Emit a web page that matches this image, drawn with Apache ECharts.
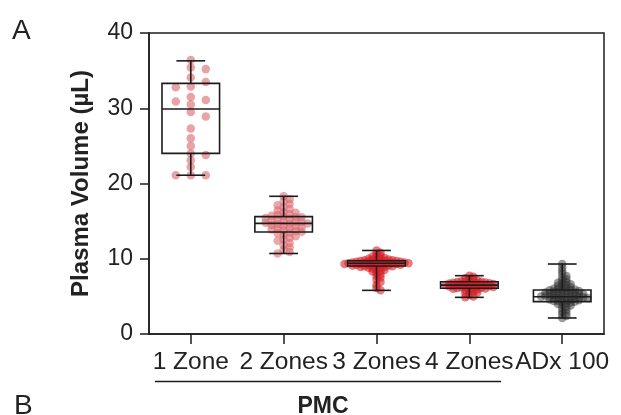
<!DOCTYPE html>
<html>
<head>
<meta charset="utf-8">
<script src="https://cdn.jsdelivr.net/npm/echarts@6/dist/echarts.min.js"></script>
<style>html,body{margin:0;padding:0;background:#fff}#c{width:621px;height:415px}</style>
</head>
<body>
<div id="c"></div>
<script>
const categories = ['1 Zone', '2 Zones', '3 Zones', '4 Zones', 'ADx 100'];
const yTicks = [0, 10, 20, 30, 40];

const zone1 = [36.4, 35.4, 35.2, 34.1, 33.5, 32.9, 32.8, 31.5, 31.1, 30.9, 30.5, 29.5, 28.9, 27.3, 26.0, 25.0, 24.0, 23.8, 23.1, 22.2, 21.1, 21.1, 21.1];
const zone2 = [18.3, 17.9, 17.6, 17.3, 17.1, 16.8, 16.6, 16.4, 16.2, 16.1, 15.9, 15.8, 15.7, 15.6, 15.5, 15.5, 15.4, 15.3, 15.2, 15.1, 15.0, 14.9, 14.9, 14.8, 14.7, 14.7, 14.6, 14.5, 14.4, 14.3, 14.2, 14.1, 14.0, 13.9, 13.8, 13.7, 13.6, 13.5, 13.4, 13.2, 13.0, 12.8, 12.6, 12.4, 12.1, 11.8, 11.5, 11.2, 10.9, 10.7];
const zone3 = [11.1, 10.8, 10.6, 10.4, 10.3, 10.2, 10.1, 10.0, 10.0, 9.9, 9.9, 9.8, 9.8, 9.8, 9.7, 9.7, 9.7, 9.6, 9.6, 9.6, 9.6, 9.5, 9.5, 9.5, 9.5, 9.4, 9.4, 9.4, 9.4, 9.4, 9.3, 9.3, 9.3, 9.3, 9.2, 9.2, 9.2, 9.2, 9.1, 9.1, 9.1, 9.0, 9.0, 9.0, 8.9, 8.9, 8.8, 8.8, 8.7, 8.6, 8.5, 8.4, 8.3, 8.1, 7.9, 7.7, 7.5, 7.2, 6.9, 6.5, 6.1, 5.8];
const zone4 = [7.75, 7.6, 7.4, 7.3, 7.2, 7.1, 7.0, 7.0, 6.95, 6.9, 6.9, 6.85, 6.8, 6.8, 6.75, 6.7, 6.7, 6.65, 6.6, 6.6, 6.55, 6.5, 6.5, 6.5, 6.45, 6.4, 6.4, 6.35, 6.3, 6.3, 6.25, 6.2, 6.2, 6.15, 6.1, 6.1, 6.05, 6.0, 6.0, 5.9, 5.8, 5.7, 5.6, 5.5, 5.4, 5.2, 5.0, 4.87];
const adx100 = [9.3, 8.8, 8.4, 8.0, 7.7, 7.5, 7.3, 7.1, 6.9, 6.8, 6.7, 6.6, 6.5, 6.4, 6.3, 6.2, 6.1, 6.0, 6.0, 5.9, 5.9, 5.8, 5.8, 5.7, 5.7, 5.6, 5.6, 5.5, 5.5, 5.5, 5.4, 5.4, 5.3, 5.3, 5.3, 5.2, 5.2, 5.1, 5.1, 5.1, 5.0, 5.0, 5.0, 4.9, 4.9, 4.9, 4.8, 4.8, 4.8, 4.7, 4.7, 4.6, 4.6, 4.5, 4.5, 4.4, 4.4, 4.3, 4.3, 4.2, 4.1, 4.0, 3.9, 3.8, 3.6, 3.4, 3.2, 3.0, 2.8, 2.6, 2.4, 2.13];

const boxMin = [21.1, 10.7, 5.8, 4.87, 2.13];
const boxQ1  = [24.0, 13.55, 9.04, 6.07, 4.3];
const boxMed = [29.9, 14.7, 9.4, 6.5, 4.96];
const boxQ3  = [33.3, 15.6, 9.74, 6.95, 5.85];
const boxMax = [36.3, 18.3, 11.1, 7.75, 9.3];

const groups = [zone1, zone2, zone3, zone4, adx100];
const colors = ['rgba(218,108,114,0.78)', 'rgba(218,100,106,0.7)', 'rgba(214,28,34,0.72)', 'rgba(214,28,34,0.72)', 'rgba(45,45,45,0.6)'];
const swarm = [
  {step: 15, minDy: 6},
  {step: 6, minDy: 4.5},
  {step: 4, minDy: 2.8},
  {step: 4, minDy: 2.8},
  {step: 4.2, minDy: 2.8}
];

const W = 621, H = 415;
const gridL = 149, gridR = 17, gridT = 33, gridB = 81;
const xMin = -0.45, xMax = 4.45, yMin = 0, yMax = 40;
const pxPerX = (W - gridL - gridR) / (xMax - xMin);
const pxPerY = (H - gridT - gridB) / (yMax - yMin);

function beeswarm(vals, gi) {
  const p = swarm[gi];
  const placed = [];
  const sorted = vals.slice().sort((a, b) => b - a);
  const out = [];
  sorted.forEach(v => {
    const ypx = v * pxPerY;
    for (let k = 0; k < 200; k++) {
      const col = k === 0 ? 0 : (k % 2 === 1 ? (k + 1) / 2 : -k / 2);
      const clash = placed.some(q => q.col === col && Math.abs(q.ypx - ypx) < p.minDy);
      if (!clash) {
        placed.push({col, ypx});
        out.push([gi + col * p.step / pxPerX, v]);
        break;
      }
    }
  });
  return out;
}

const scatterSeries = groups.map((g, gi) => ({
  type: 'scatter',
  data: beeswarm(g, gi),
  symbolSize: 8.5,
  itemStyle: {color: colors[gi]},
  z: 2,
  silent: true
}));

const boxData = categories.map((c, i) => [i, boxMin[i], boxQ1[i], boxMed[i], boxQ3[i], boxMax[i]]);

const boxSeries = {
  type: 'custom',
  z: 5,
  silent: true,
  data: boxData,
  renderItem: function (params, api) {
    const x = api.value(0);
    const c = api.coord([x, api.value(1)]);
    const q1 = api.coord([x, api.value(2)]);
    const md = api.coord([x, api.value(3)]);
    const q3 = api.coord([x, api.value(4)]);
    const mx = api.coord([x, api.value(5)]);
    const bw = api.size([0.62, 0])[0];
    const cw = api.size([0.31, 0])[0];
    const st = {stroke: '#1c1c1c', lineWidth: 1.6, fill: null};
    const cx = c[0];
    return {
      type: 'group',
      children: [
        {type: 'rect', shape: {x: cx - bw / 2, y: q3[1], width: bw, height: q1[1] - q3[1]}, style: st},
        {type: 'line', shape: {x1: cx - bw / 2, y1: md[1], x2: cx + bw / 2, y2: md[1]}, style: st},
        {type: 'line', shape: {x1: cx, y1: q3[1], x2: cx, y2: mx[1]}, style: st},
        {type: 'line', shape: {x1: cx, y1: q1[1], x2: cx, y2: c[1]}, style: st},
        {type: 'line', shape: {x1: cx - cw / 2, y1: mx[1], x2: cx + cw / 2, y2: mx[1]}, style: st},
        {type: 'line', shape: {x1: cx - cw / 2, y1: c[1], x2: cx + cw / 2, y2: c[1]}, style: st}
      ]
    };
  }
};

const font = 'Liberation Sans, Arial, sans-serif';
const chart = echarts.init(document.getElementById('c'), null, {renderer: 'canvas'});
chart.setOption({
  animation: false,
  backgroundColor: '#fff',
  grid: {left: gridL, right: gridR, top: gridT, bottom: gridB, show: true, borderColor: '#1c1c1c', borderWidth: 1.5, backgroundColor: 'transparent'},
  xAxis: {
    type: 'value', min: xMin, max: xMax,
    axisLine: {show: true, onZero: false, lineStyle: {color: '#1c1c1c', width: 1.5}},
    axisTick: {show: true, customValues: [0, 1, 2, 3, 4], length: 10, lineStyle: {color: '#1c1c1c', width: 1.5}},
    axisLabel: {customValues: [0, 1, 2, 3, 4], formatter: v => categories[Math.round(v)], fontSize: 24.5, color: '#222', fontFamily: font, margin: 16},
    splitLine: {show: false}
  },
  yAxis: {
    type: 'value', min: yMin, max: yMax, interval: 10,
    name: 'Plasma Volume (µL)', nameLocation: 'middle', nameGap: 56,
    nameTextStyle: {fontSize: 24, fontWeight: 'bold', color: '#222', fontFamily: font},
    axisLine: {show: true, onZero: false, lineStyle: {color: '#1c1c1c', width: 1.5}},
    axisTick: {show: true, length: 9, lineStyle: {color: '#1c1c1c', width: 1.5}},
    axisLabel: {fontSize: 23, color: '#222', fontFamily: font, margin: 16, formatter: v => yTicks.includes(v) ? String(v) : ''},
    splitLine: {show: false}
  },
  graphic: [
    {type: 'text', left: 12, top: 17, style: {text: 'A', fontSize: 28, fill: '#222', fontFamily: font}},
    {type: 'text', left: 14, top: 392, style: {text: 'B', fontSize: 28, fill: '#222', fontFamily: font}},
    {type: 'line', shape: {x1: 155, y1: 381.5, x2: 501, y2: 381.5}, style: {stroke: '#1c1c1c', lineWidth: 1.6}},
    {type: 'text', x: 323, y: 395, style: {text: 'PMC', fontSize: 23, fontWeight: 'bold', fill: '#222', fontFamily: font, align: 'center', verticalAlign: 'top'}}
  ],
  series: scatterSeries.concat([boxSeries])
});
</script>
</body>
</html>
